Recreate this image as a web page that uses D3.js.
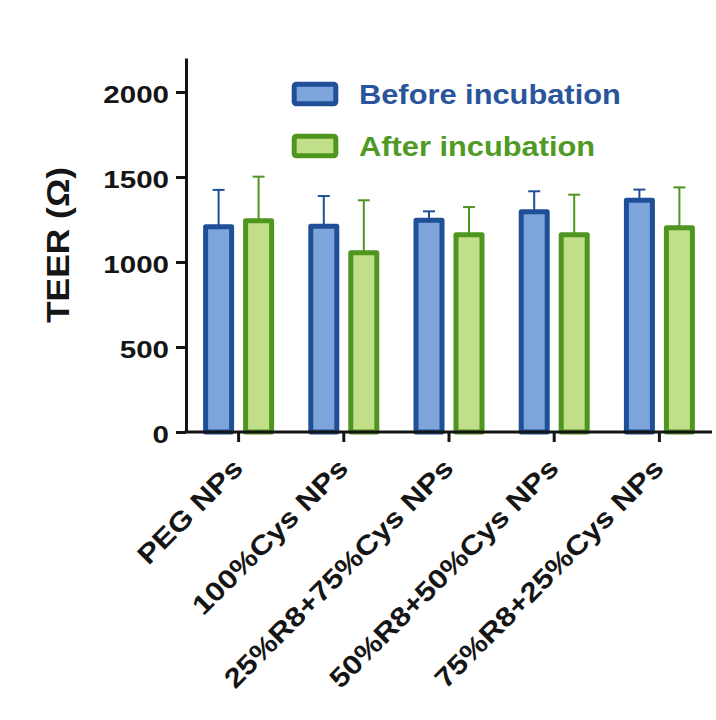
<!DOCTYPE html>
<html>
<head>
<meta charset="utf-8">
<script src="https://cdn.jsdelivr.net/npm/d3@7"></script>
<style>
  html, body { margin: 0; padding: 0; background: #ffffff; }
  svg { display: block; }
  text { font-family: "Liberation Sans", Arial, sans-serif; font-weight: bold; }
</style>
</head>
<body>
<svg id="chart" width="716" height="720"></svg>
<script>
// ---- data ----
const categories = ["PEG NPs", "100%Cys NPs", "25%R8+75%Cys NPs", "50%R8+50%Cys NPs", "75%R8+25%Cys NPs"];
const seriesNames = ["Before incubation", "After incubation"];
const beforeValues = [1207, 1210, 1245, 1295, 1363];
const beforeErrors = [217, 178, 53, 121, 63];
const afterValues = [1242, 1055, 1160, 1160, 1201];
const afterErrors = [260, 308, 163, 236, 238];
const yTicks = [0, 500, 1000, 1500, 2000];
const yTitle = "TEER (Ω)";

// ---- styles ----
const seriesStyle = [
  { fill: "#7ea4dc", stroke: "#1f4f97", text: "#2a559b" },
  { fill: "#c1df89", stroke: "#4e961f", text: "#4f9a24" }
];
const axisColor = "#151515";

const svg = d3.select("#chart");
const x0 = 186, x1end = 712, yBase = 432;

const x = d3.scaleBand().domain(categories).range([x0, x1end]).padding(0);
const xs = d3.scaleBand().domain(seriesNames).range([-40, 40]).padding(0);
const y = d3.scaleLinear().domain([0, 2200]).range([yBase, 58]);

const series = [
  { name: seriesNames[0], values: beforeValues, errors: beforeErrors, style: seriesStyle[0] },
  { name: seriesNames[1], values: afterValues, errors: afterErrors, style: seriesStyle[1] }
];

// bars
const barW = 26;
series.forEach(s => {
  const g = svg.append("g");
  categories.forEach((c, i) => {
    const cx = x(c) + x.bandwidth() / 2 + xs(s.name) + xs.bandwidth() / 2;
    const v = s.values[i], e = s.errors[i];
    g.append("line")
      .attr("x1", cx).attr("x2", cx)
      .attr("y1", y(v)).attr("y2", y(v + e))
      .attr("stroke", s.style.stroke).attr("stroke-width", 2);
    g.append("line")
      .attr("x1", cx - 6).attr("x2", cx + 6)
      .attr("y1", y(v + e)).attr("y2", y(v + e))
      .attr("stroke", s.style.stroke).attr("stroke-width", 2);
    g.append("rect")
      .attr("x", cx - barW / 2).attr("width", barW)
      .attr("y", y(v)).attr("height", y(0) - y(v))
      .attr("fill", s.style.fill)
      .attr("stroke", s.style.stroke).attr("stroke-width", 5)
      .attr("stroke-linejoin", "round");
  });
});

// y axis
const yAxis = d3.axisLeft(y).tickValues(yTicks).tickFormat(d3.format("d"))
  .tickSize(10).tickPadding(7).tickSizeOuter(0);
const gy = svg.append("g").attr("transform", `translate(${x0},0)`).call(yAxis);
gy.select(".domain").attr("stroke", axisColor).attr("stroke-width", 3);
gy.selectAll(".tick line").attr("stroke", axisColor).attr("stroke-width", 3);
gy.selectAll(".tick text")
  .attr("fill", axisColor).attr("font-size", 24)
  .attr("font-family", "Liberation Sans, Arial, sans-serif")
  .attr("font-weight", "bold")
  .attr("dy", "0.42em")
  .each(function () {
    const l = this.getComputedTextLength();
    d3.select(this).attr("textLength", l * 1.23).attr("lengthAdjust", "spacingAndGlyphs");
  });

// x axis
const xAxis = d3.axisBottom(x).tickSize(10).tickSizeOuter(0).tickFormat("");
const gx = svg.append("g").attr("transform", `translate(0,${yBase})`).call(xAxis);
gx.select(".domain").attr("stroke", axisColor).attr("stroke-width", 3)
  .attr("d", `M${x0 - 1.5},0H${x1end}`);
gx.selectAll(".tick line").attr("stroke", axisColor).attr("stroke-width", 3);

// x labels rotated
svg.append("g").selectAll("text").data(categories).join("text")
  .attr("transform", d => `translate(${x(d) + x.bandwidth() / 2 + 6},${yBase + 38}) rotate(-45)`)
  .attr("text-anchor", "end")
  .attr("font-size", 27)
  .attr("fill", axisColor)
  .text(d => d)
  .each(function () {
    const l = this.getComputedTextLength();
    d3.select(this).attr("textLength", l * 1.16).attr("lengthAdjust", "spacingAndGlyphs");
  });

// y title
svg.append("text")
  .attr("transform", `translate(69,245) rotate(-90)`)
  .attr("text-anchor", "middle")
  .attr("font-size", 32)
  .attr("fill", axisColor)
  .attr("textLength", 156).attr("lengthAdjust", "spacingAndGlyphs")
  .text(yTitle);

// legend
const legend = svg.append("g");
series.forEach((s, i) => {
  const cy = 94 + i * 52;
  legend.append("rect")
    .attr("x", 294.2).attr("y", cy - 9.7).attr("width", 41.6).attr("height", 19.4)
    .attr("rx", 2)
    .attr("fill", s.style.fill).attr("stroke", s.style.stroke).attr("stroke-width", 5);
  legend.append("text")
    .attr("x", 359).attr("y", cy + 9.5)
    .attr("font-size", 28)
    .attr("fill", s.style.text)
    .text(s.name)
    .each(function () {
      const l = this.getComputedTextLength();
      d3.select(this).attr("textLength", l * 1.1).attr("lengthAdjust", "spacingAndGlyphs");
    });
});
</script>
</body>
</html>
